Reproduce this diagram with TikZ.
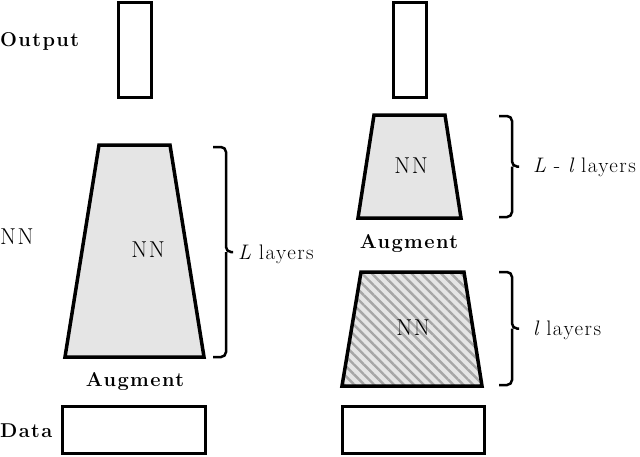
\documentclass[tikz,border=0pt]{standalone}
\usepackage{fontspec}
\setmainfont{Latin Modern Roman}[LetterSpace=7]
\usetikzlibrary{calc,patterns.meta,positioning}

\begin{document}
\begin{tikzpicture}[
    x=1pt, y=-1pt,
    lbl/.style={font=\fontsize{20}{24}\selectfont\bfseries, inner sep=0pt},
    txt/.style={font=\fontsize{21}{25}\selectfont, inner sep=0pt},
    nntxt/.style={font=\fontsize{23}{27}\selectfont, inner sep=0pt},
    blk/.style={draw, line width=3pt, fill=white, inner sep=0pt},
    net/.style={draw, line width=3.5pt, line join=miter, fill=gray!20},
    hatched/.style={draw, line width=3.5pt, line join=miter,
    preaction={fill=gray!20},
    pattern={Lines[angle=-45, distance=7pt, line width=2.4pt]},
    pattern color=gray!70},
    brk/.style={line width=2.5pt, rounded corners=5pt}
]
\useasboundingbox (0,0) rectangle (640,456);

% left column: plain network
\node[blk, minimum width=33pt, minimum height=95pt] (out1) at (134.5,50) {};
\draw[net] (99,145) -- (170,145) -- (204,357) -- (65,357) -- cycle;
\node[nntxt] (nn1) at (148,250) {NN};
\node[lbl] (aug1) at (135,382) {Augment};
\node[blk, minimum width=143pt, minimum height=47pt] (data1) at (133.5,430) {};
\node[lbl, anchor=west] (outlbl) at (0,41) {Output};
\node[nntxt, anchor=west] (nnlbl) at (0,237) {NN};
\node[lbl, anchor=west] (datalbl) at (0,431) {Data};
\coordinate (b1a) at (213,147);
\coordinate (b1b) at (213,357);
\draw[brk] (b1a) -- ++(13,0) -- ($(b1a)!.5!(b1b)+(13,0)$) -- ++(7,0)
    ($(b1a)!.5!(b1b)+(13,0)$) -- ($(b1b)+(13,0)$) -- (b1b);
\node[txt, anchor=west] (lay1) at (238,254) {\itshape L\upshape\ layers};

% right column: augmented after l layers
\node[blk, minimum width=33pt, minimum height=95pt] (out2) at (409.5,50) {};
\draw[net] (374,115) -- (445,115) -- (461,218) -- (358,218) -- cycle;
\node[nntxt] (nn2) at (411,166) {NN};
\node[lbl] (aug2) at (409,244) {Augment};
\draw[hatched] (361,272) -- (464,272) -- (482,386) -- (342,386) -- cycle;
\node[nntxt] (nn3) at (413,328) {NN};
\node[blk, minimum width=142pt, minimum height=47pt] (data2) at (413,429.5) {};
\coordinate (b2a) at (499,116);
\coordinate (b2b) at (499,217);
\draw[brk] (b2a) -- ++(13,0) -- ($(b2a)!.5!(b2b)+(13,0)$) -- ++(7,0)
    ($(b2a)!.5!(b2b)+(13,0)$) -- ($(b2b)+(13,0)$) -- (b2b);
\node[txt, anchor=west] (lay2) at (533,167) {\itshape L\upshape\ - \itshape l\upshape\ layers};
\coordinate (b3a) at (499,272);
\coordinate (b3b) at (499,385);
\draw[brk] (b3a) -- ++(13,0) -- ($(b3a)!.5!(b3b)+(13,0)$) -- ++(7,0)
    ($(b3a)!.5!(b3b)+(13,0)$) -- ($(b3b)+(13,0)$) -- (b3b);
\node[txt, anchor=west] (lay3) at (533,330) {\itshape l\upshape\ layers};
\end{tikzpicture}
\end{document}
